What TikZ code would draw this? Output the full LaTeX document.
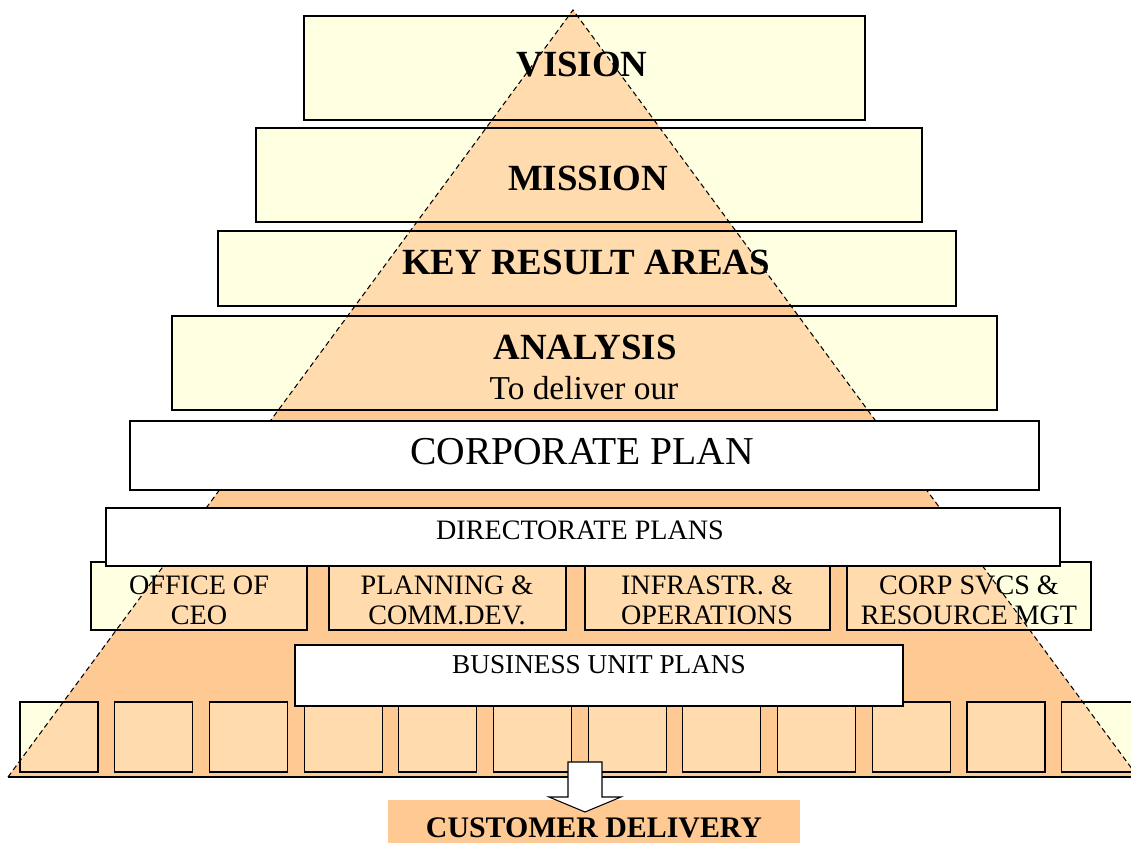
\documentclass[tikz,border=0pt]{standalone}
\usepackage{fontspec}
\setmainfont{Liberation Serif}
\usetikzlibrary{positioning}
\definecolor{pyrorange}{RGB}{255,201,147}
\definecolor{paleyellow}{RGB}{255,255,226}
\tikzset{plate/.style = {draw=black, line width=0.6pt},
         sheet/.style = {draw=black, line width=0.6pt, fill=white},
         headline/.style = {font=\fontsize{21}{24}\selectfont\bfseries},
         unitlabel/.style = {align=center, font=\fontsize{16}{17}\selectfont}}
\newcommand{\plateboxes}{304/16/865/120, 256/128/922/222, 218/231/956/306, 172/316/997/410,
    91/562/307/630, 329/566/566/630, 585/566/830/630, 847/562/1091/630}

\begin{document}
\begin{tikzpicture}[x=0.02cm, y=-0.02cm]
    \useasboundingbox (0,0) rectangle (1131,842);
    \coordinate (apex) at (573,10);
    \coordinate (baseL) at (8,777);
    \coordinate (baseR) at (1138,777);
    \fill [pyrorange] (apex) -- (baseL) -- (baseR) -- cycle;

    % pale plates, the pyramid shows through them
    \foreach \xa/\ya/\xb/\yb in \plateboxes
      \fill [paleyellow] (\xa,\ya) rectangle (\xb,\yb);
    \foreach \i in {0,...,11}
      \fill [paleyellow] ({20 + 94.7*\i}, 702) rectangle +(78,70);
    \fill [pyrorange, fill opacity=0.65] (apex) -- (baseL) -- (baseR) -- cycle;
    \foreach \xa/\ya/\xb/\yb in \plateboxes
      \draw [plate] (\xa,\ya) rectangle (\xb,\yb);
    \foreach \i in {0,...,11}
      \draw [plate] ({20 + 94.7*\i}, 702) rectangle +(78,70);

    \draw [dashed, dash pattern=on 3pt off 2pt, line width=0.6pt] (baseL) -- (apex) -- (baseR);

    % white plans
    \draw [sheet] (130,421) rectangle (1039,490);
    \draw [sheet] (106,508) rectangle (1060,566);
    \draw [sheet] (295,645) rectangle (903,706);
    \draw [line width=0.6pt] (baseL) -- (1131,777);

    \node [headline] (vision) at (582,65) {VISION};
    \node [headline] (mission) at (588,178) {MISSION};
    \node [headline] (kra) at (586,262) {KEY RESULT AREAS};
    \node [headline] (analysis) at (585,347) {ANALYSIS};
    \node [font=\fontsize{19}{22}\selectfont] (deliverour) at (584,388) {To deliver our};
    \node [font=\fontsize{22.5}{26}\selectfont] (corporate) at (582,452) {CORPORATE PLAN};
    \node [font=\fontsize{16}{18}\selectfont] (directorate) at (580,530) {DIRECTORATE PLANS};
    \node [unitlabel] (ceo) at (199,600) {OFFICE OF\\CEO};
    \node [unitlabel] (planning) at (447,600) {PLANNING \&\\COMM.DEV.};
    \node [unitlabel] (infra) at (707,600) {INFRASTR. \&\\OPERATIONS};
    \node [unitlabel] (corpsvcs) at (969,600) {CORP SVCS \&\\RESOURCE MGT};
    \node [font=\fontsize{15.5}{18}\selectfont] (business) at (599,665) {BUSINESS UNIT PLANS};

    \node [fill=pyrorange, minimum width=8.24cm, minimum height=1.12cm,
           font=\fontsize{17}{20}\selectfont\bfseries] (customer) at (594,828) {CUSTOMER DELIVERY};

    \coordinate (spout) at (585,762);
    \draw [fill=white, line width=0.6pt] (spout) ++(-17,0) -- ++(34,0) -- ++(0,35) -- ++(19,0)
          -- ++(-36,15) -- ++(-36,-15) -- ++(19,0) -- cycle;
\end{tikzpicture}
\end{document}
